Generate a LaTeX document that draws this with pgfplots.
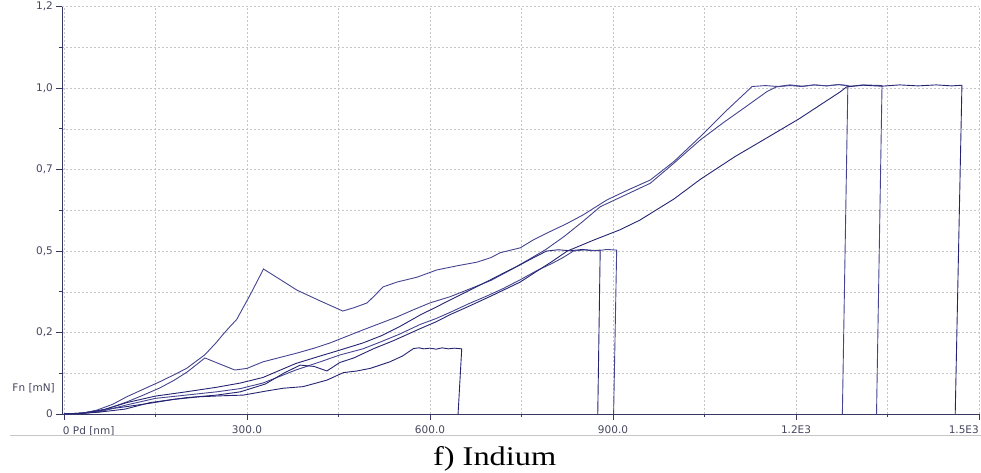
\documentclass[border=0pt]{standalone}
\usepackage{pgfplots}
\pgfplotsset{compat=1.18}
\usepackage{fontspec}
\setmainfont{Liberation Serif}
\newfontfamily\tickfont{DejaVu Sans}
\newfontfamily\capfont{Liberation Serif}[FakeStretch=1.2]
\definecolor{navyA}{RGB}{36,36,115}
\definecolor{navyB}{RGB}{68,68,145}
\definecolor{axiscol}{RGB}{55,55,100}
\definecolor{labcol}{RGB}{70,70,95}
\begin{document}
\begin{tikzpicture}
\path[use as bounding box] (-62bp,-59bp) rectangle (919bp,414bp);
\begin{axis}[
  at={(0,0)}, anchor=south west,
  scale only axis, width=917bp, height=407.3bp,
  xmin=-3.3, xmax=1500, ymin=0, ymax=1.25,
  axis x line=bottom, axis y line=left,
  axis line style={-, draw=axiscol, line width=0.9bp},
  xtick={0,300,600,900,1200,1500}, xticklabels={,300.0,600.0,900.0,1.2E3,},
  minor xtick={150,450,750,1050,1350},
  ytick={0,0.25,0.5,0.75,1,1.25}, yticklabels={0,{0,2},{0,5},{0,7},{1,0},{1,2}},
  minor ytick={0.125,0.375,0.625,0.875,1.125},
  tick align=outside, major tick length=6bp, minor tick length=3bp,
  tick style={draw=axiscol, line width=0.8bp},
  grid=both,
  major grid style={dash pattern=on 2bp off 2bp, draw=gray!45, line width=0.6bp},
  minor grid style={dash pattern=on 2bp off 2bp, draw=gray!45, line width=0.6bp},
  tick label style={font=\tickfont\fontsize{10.5bp}{12bp}\selectfont, text=labcol},
  xticklabel style={inner sep=0pt, yshift=-6bp},
  yticklabel style={inner sep=0pt, xshift=-3bp},
  clip=false,
]
% C1 (max 0.2)
\addplot[navyA, line width=0.9bp, no marks] coordinates {
(0,0)(30,0.003)(59,0.012)(100,0.022)(141,0.033)(180,0.045)(223,0.053)(260,0.056)(294,0.058)(330,0.070)(359,0.079)(392,0.084)(431,0.104)(458,0.127)(480,0.132)(502,0.140)(534,0.160)(555,0.178)(573,0.201)(582,0.203)(590,0.200)(600,0.202)(610,0.199)(620,0.203)(630,0.200)(640,0.202)(652,0.200)(646,0)};
% a (big peak)
\addplot[navyB, line width=0.9bp, no marks] coordinates {
(0,0)(30,0.002)(54,0.012)(80,0.030)(103,0.053)(130,0.076)(157,0.099)(180,0.120)(201,0.140)(231,0.182)(250,0.220)(261,0.245)(272,0.268)(283,0.290)(305,0.365)(327,0.445)(355,0.412)(382,0.380)(420,0.347)(457,0.316)(475,0.326)(497,0.341)(510,0.365)(523,0.390)(546,0.405)(579,0.420)(611,0.442)(645,0.455)(677,0.466)(700,0.480)(715,0.495)(748,0.510)(770,0.535)(797,0.560)(825,0.585)(851,0.611)(890,0.657)(925,0.688)(961,0.718)(1000,0.775)(1043,0.851)(1087,0.933)(1128,1.005)(1150,1.008)(1170,1.005)(1190,1.010)(1210,1.006)(1230,1.010)(1250,1.007)(1270,1.011)(1285,1.008)(1276,0)};
% b (small peak)
\addplot[navyB, line width=0.9bp, no marks] coordinates {
(0,0)(30,0.002)(59,0.008)(103,0.037)(130,0.058)(157,0.080)(180,0.103)(202,0.129)(231,0.172)(256,0.153)(280,0.135)(300,0.140)(326,0.160)(355,0.174)(382,0.187)(410,0.202)(436,0.218)(463,0.238)(490,0.258)(518,0.278)(546,0.298)(573,0.320)(600,0.341)(633,0.360)(660,0.380)(700,0.410)(730,0.440)(760,0.472)(790,0.505)(820,0.545)(850,0.590)(879,0.636)(920,0.672)(961,0.708)(1000,0.770)(1043,0.841)(1080,0.893)(1114,0.938)(1152,0.989)(1168,1.004)(1190,1.008)(1210,1.005)(1230,1.010)(1250,1.007)(1270,1.011)(1290,1.006)(1310,1.010)(1341,1.008)(1332,0)};
% d (max 0.5)
\addplot[navyA, line width=0.9bp, no marks] coordinates {
(0,0)(30,0.003)(59,0.010)(103,0.035)(150,0.055)(200,0.068)(250,0.082)(289,0.095)(326,0.112)(380,0.155)(420,0.178)(452,0.196)(490,0.218)(520,0.240)(550,0.268)(584,0.304)(610,0.328)(633,0.350)(663,0.378)(693,0.406)(720,0.432)(748,0.458)(770,0.480)(791,0.500)(810,0.504)(830,0.501)(850,0.505)(865,0.501)(879,0.503)(875,0)};
% c (max 0.5)
\addplot[navyB, line width=0.9bp, no marks] coordinates {
(0,0)(30,0.002)(59,0.007)(103,0.028)(150,0.048)(200,0.058)(250,0.068)(289,0.078)(326,0.095)(380,0.135)(420,0.160)(452,0.181)(490,0.200)(520,0.222)(550,0.245)(584,0.275)(610,0.293)(633,0.312)(663,0.338)(693,0.362)(720,0.385)(748,0.412)(775,0.440)(800,0.462)(818,0.480)(835,0.500)(855,0.504)(875,0.501)(890,0.505)(906,0.503)(901,0)};
% e (max 1.0, deepest)
\addplot[navyA, line width=0.9bp, no marks] coordinates {
(0,0)(30,0.002)(59,0.006)(100,0.015)(141,0.035)(200,0.050)(250,0.058)(289,0.068)(330,0.092)(360,0.125)(387,0.150)(410,0.146)(431,0.132)(452,0.158)(475,0.172)(507,0.200)(540,0.225)(584,0.262)(610,0.283)(633,0.305)(663,0.330)(700,0.362)(748,0.405)(775,0.438)(800,0.468)(825,0.500)(870,0.535)(911,0.565)(944,0.595)(1000,0.660)(1043,0.720)(1100,0.790)(1150,0.845)(1206,0.907)(1245,0.955)(1272,0.988)(1283,1.004)(1310,1.009)(1340,1.006)(1370,1.010)(1400,1.007)(1430,1.010)(1455,1.007)(1472,1.009)(1461,0)};
\node[anchor=north west, inner sep=0pt, font=\tickfont\fontsize{10.5bp}{12bp}\selectfont, text=labcol] at ([yshift=-12bp]axis cs:-2,0) {0 Pd [nm]};
\node[anchor=north east, inner sep=0pt, font=\tickfont\fontsize{10.5bp}{12bp}\selectfont, text=labcol] at ([yshift=-12bp]axis cs:1500,0) {1.5E3};
\node[anchor=east, inner sep=0pt, font=\tickfont\fontsize{10.5bp}{12bp}\selectfont, text=labcol] at ([xshift=-7bp]axis cs:-3.3,0.08) {Fn [mN]};
\draw[gray!45, line width=0.8bp] ([xshift=-52bp, yshift=-21.5bp]axis cs:-3.3,0) -- ([xshift=2bp, yshift=-21.5bp]axis cs:1500,0);
\node[anchor=base, inner sep=0pt, font=\capfont\fontsize{27bp}{30bp}\selectfont] at ([yshift=-51bp]axis cs:706,0) {f) Indium};
\end{axis}
\end{tikzpicture}
\end{document}
